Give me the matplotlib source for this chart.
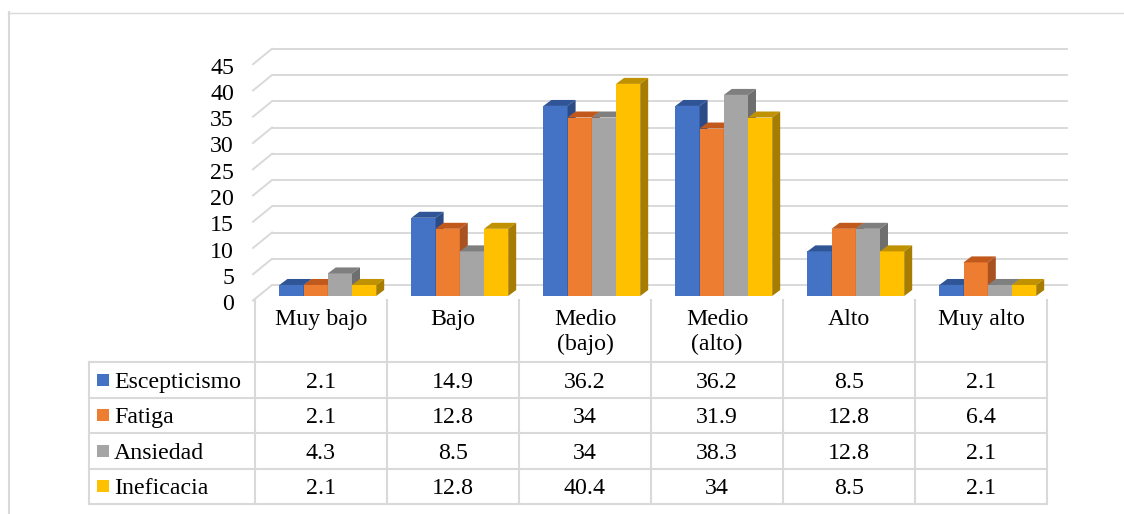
import matplotlib
matplotlib.use("Agg")
import matplotlib.pyplot as plt
from matplotlib.patches import Polygon
from matplotlib.lines import Line2D
from matplotlib.transforms import offset_copy
import numpy as np

# ---------------- data ----------------
categories = ["Muy bajo", "Bajo", "Medio\n(bajo)", "Medio\n(alto)", "Alto", "Muy alto"]
series_names = ["Escepticismo", "Fatiga", "Ansiedad", "Ineficacia"]
escepticismo = [2.1, 14.9, 36.2, 36.2, 8.5, 2.1]
fatiga = [2.1, 12.8, 34, 31.9, 12.8, 6.4]
ansiedad = [4.3, 8.5, 34, 38.3, 12.8, 2.1]
ineficacia = [2.1, 12.8, 40.4, 34, 8.5, 2.1]
y_ticks = [0, 5, 10, 15, 20, 25, 30, 35, 40, 45]

series = [escepticismo, fatiga, ansiedad, ineficacia]

# ---------------- style ----------------
front_c = ["#4472C4", "#ED7D31", "#A5A5A5", "#FFC000"]
top_c = ["#2F5597", "#C2591C", "#7F7F7F", "#C09100"]
side_c = ["#2A4B86", "#A95221", "#6E6E6E", "#A67D00"]
grid_c = "#D9D9D9"
FS = 17.2

plt.rcParams["font.family"] = ["Liberation Serif", "DejaVu Serif"]

W, H = 1124, 514
fig = plt.figure(figsize=(W / 100, H / 100), dpi=100)

# main (3-D looking) bar area
PX_X = 132.0   # pixels per category
PX_Y = 5.25    # pixels per value unit
ax = fig.add_axes([255 / W, (H - 296) / H, 6 * PX_X / W, 45 * PX_Y / H])
ax.set_xlim(-0.5, 5.5)
ax.set_ylim(0, 45)
ax.axis("off")

def dx(p):
    return p / PX_X

def dy(p):
    return p / PX_Y

# back wall gridlines + side wall diagonals
for v in y_ticks:
    ax.plot([-0.5 + dx(17), 5.5 + dx(21)], [v + dy(11), v + dy(11)],
            color=grid_c, lw=1.4, clip_on=False, zorder=1, solid_capstyle="butt")
    ax.plot([-0.5 - dx(2), -0.5 + dx(17)], [v - dy(4.5), v + dy(11)],
            color=grid_c, lw=1.4, clip_on=False, zorder=1)
    ax.text(-0.5, v, str(v),
            transform=offset_copy(ax.transData, fig, x=-21, y=-6, units="dots"),
            ha="right", va="center_baseline", fontsize=FS, color="black")

# bars with top and side faces
w = 24.2 / PX_X
shift = 6.8 / PX_X
ddx, ddy = dx(8), dy(6)
idx = np.arange(len(categories))
for k, vals in enumerate(series):
    xs = idx + shift + (k - 1.5) * w
    z = 3 + k
    ax.bar(xs, vals, width=w, color=front_c[k], linewidth=0, zorder=z, clip_on=False)
    for xc, v in zip(xs, vals):
        x0, x1 = xc - w / 2, xc + w / 2
        ax.add_patch(Polygon([(x0, v), (x1, v), (x1 + ddx, v + ddy), (x0 + ddx, v + ddy)],
                             closed=True, fc=top_c[k], ec="none", zorder=z, clip_on=False))
        ax.add_patch(Polygon([(x1, 0), (x1 + ddx, ddy), (x1 + ddx, v + ddy), (x1, v)],
                             closed=True, fc=side_c[k], ec="none", zorder=z, clip_on=False))

# ---------------- data table ----------------
ROW = 35.5
HEAD = 62.0
LEG = 166.0
tax = fig.add_axes([(255 - LEG) / W, (H - 504) / H, (LEG + 6 * PX_X) / W, (4 * ROW + HEAD) / H])
xl = -0.5 - LEG / PX_X
ytop = -HEAD / ROW
tax.set_xlim(xl, 5.5)
tax.set_ylim(4, ytop)
tax.axis("off")

lw_t = 1.5
for r in range(5):
    tax.plot([xl, 5.5], [r, r], color=grid_c, lw=lw_t, clip_on=False, solid_capstyle="projecting")
tax.plot([xl, xl], [0, 4], color=grid_c, lw=lw_t, clip_on=False, solid_capstyle="projecting")
for c in range(len(categories) + 1):
    tax.plot([c - 0.5, c - 0.5], [ytop, 4], color=grid_c, lw=lw_t, clip_on=False)

for i, cat in enumerate(categories):
    tax.text(i, (309 - 362) / ROW, cat, ha="center", va="top", fontsize=FS,
             linespacing=1.25, color="black")

for r, (name, vals) in enumerate(zip(series_names, series)):
    for i, v in enumerate(vals):
        tax.text(i, r + 0.5, f"{v:g}", ha="center", va="center_baseline",
                 fontsize=FS, color="black")
    tax.text(xl, r + 0.5, name,
             transform=offset_copy(tax.transData, fig, x=25, y=0, units="dots"),
             ha="left", va="center_baseline", fontsize=FS, color="black")

rows = np.arange(len(series_names)) + 0.5
tax.scatter([xl] * len(series_names), rows, marker="s", s=(12 * 0.72) ** 2,
            c=front_c, linewidths=0, clip_on=False,
            transform=offset_copy(tax.transData, fig, x=14.3, y=0, units="dots"))

# outer chart frame
fig.add_artist(Line2D([8 / W, 1], [(H - 12.5) / H] * 2, transform=fig.transFigure,
                      color=grid_c, lw=1.0))
fig.add_artist(Line2D([9 / W, 9 / W], [0, (H - 12) / H], transform=fig.transFigure,
                      color=grid_c, lw=1.5))

fig.savefig("out.png", dpi=100)
